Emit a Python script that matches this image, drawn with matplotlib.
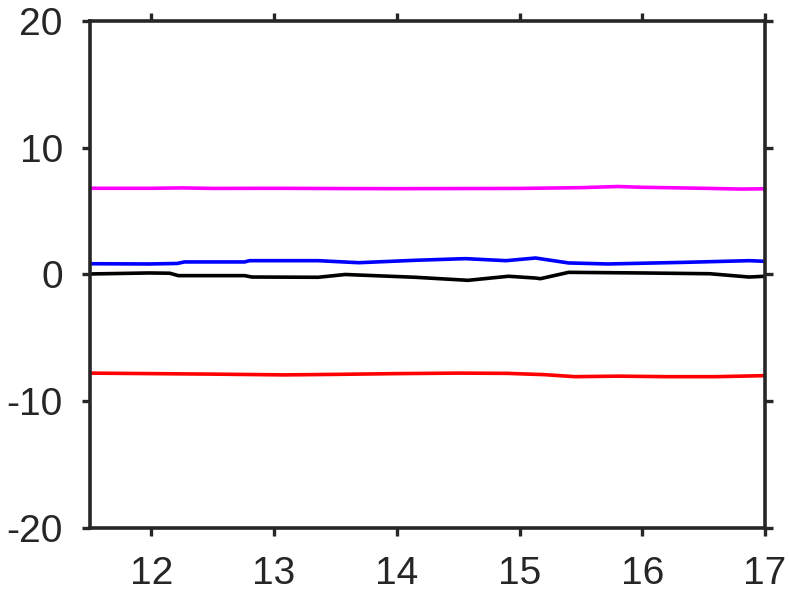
import numpy as np
import matplotlib
matplotlib.use('Agg')
import matplotlib.pyplot as plt

plt.rcParams['font.family'] = ['Liberation Sans', 'DejaVu Sans']
plt.rcParams['axes.unicode_minus'] = False

# series (x in the same units as the axis)
mag_x = [11.49, 12.0, 12.25, 12.5, 13.0, 13.5, 14.0, 14.5, 15.0, 15.5, 15.8, 16.0, 16.5, 16.8, 17.0]
mag_y = [6.80, 6.80, 6.83, 6.79, 6.80, 6.78, 6.77, 6.78, 6.79, 6.85, 6.94, 6.88, 6.80, 6.74, 6.76]

blue_x = [11.49, 11.98, 12.21, 12.27, 12.76, 12.80, 13.36, 13.69, 14.15, 14.56, 14.89, 15.13,
          15.22, 15.40, 15.72, 16.35, 16.87, 17.0]
blue_y = [0.85, 0.83, 0.87, 0.99, 0.99, 1.09, 1.09, 0.93, 1.12, 1.25, 1.09, 1.30,
          1.17, 0.91, 0.83, 0.96, 1.09, 1.04]

black_x = [11.49, 11.98, 12.15, 12.22, 12.76, 12.82, 13.36, 13.58, 14.15, 14.58, 14.91, 15.13,
           15.17, 15.40, 16.00, 16.55, 16.87, 17.0]
black_y = [0.04, 0.12, 0.10, -0.09, -0.09, -0.20, -0.22, 0.0, -0.22, -0.46, -0.14, -0.28,
           -0.33, 0.17, 0.12, 0.06, -0.20, -0.14]

red_x = [11.49, 12.0, 12.5, 13.08, 13.5, 14.0, 14.5, 14.9, 15.2, 15.45, 15.8, 16.2, 16.6, 17.0]
red_y = [-7.78, -7.82, -7.86, -7.92, -7.88, -7.82, -7.78, -7.80, -7.90, -8.06, -8.02, -8.06, -8.06, -7.98]

xticks = [12, 13, 14, 15, 16, 17]
yticks = [-20, -10, 0, 10, 20]

fig = plt.figure(figsize=(7.89, 5.99), dpi=100)
ax = fig.add_axes([0.114, 0.1185, 0.8556, 0.8465])

lw = 2.6
ax.plot(mag_x, mag_y, color='#ff00ff', lw=lw)
ax.plot(blue_x, blue_y, color='#0000ff', lw=lw)
ax.plot(black_x, black_y, color='black', lw=lw)
ax.plot(red_x, red_y, color='#ff0000', lw=lw)

ax.set_xlim(11.5, 17)
ax.set_ylim(-20, 20)
ax.set_xticks(xticks)
ax.set_yticks(yticks)

dark = '#262626'
for s in ax.spines.values():
    s.set_color(dark)
    s.set_linewidth(2.6)
ax.tick_params(direction='out', length=6, width=2.4, color=dark, labelcolor=dark,
               labelsize=28, top=True, right=True)
ax.tick_params(axis='x', pad=14)
ax.tick_params(axis='y', pad=13.5)

fig.savefig('out.png', dpi=100)
